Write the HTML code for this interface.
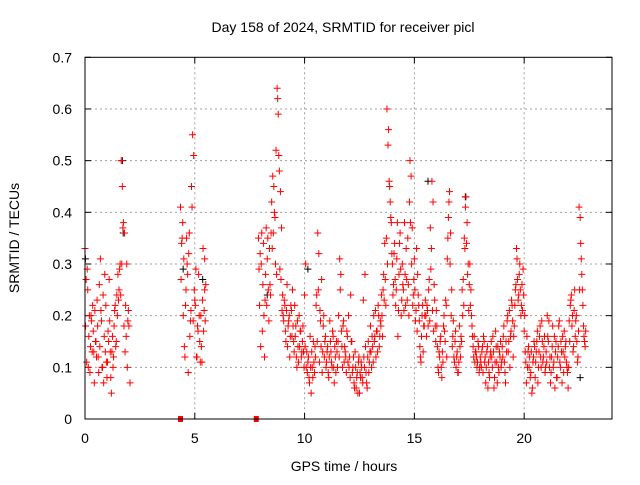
<!DOCTYPE html>
<html><head><meta charset="utf-8"><style>
body{margin:0;background:#fff;}
svg text{font-family:"Liberation Sans",sans-serif;font-size:14px;fill:#000;}
</style></head><body>
<svg id="chart" width="640" height="480" viewBox="0 0 640 480" xmlns="http://www.w3.org/2000/svg">
<text x="343" y="32" text-anchor="middle">Day 158 of 2024, SRMTID for receiver picl</text>
<text transform="translate(19,238) rotate(-90)" text-anchor="middle">SRMTID / TECUs</text>
<text x="344" y="471" text-anchor="middle">GPS time / hours</text>
<g id="grid"></g>
<g id="ticks"></g>
<g id="blk"></g>
<g id="red"></g>
<rect x="85" y="57.3" width="527" height="361.7" fill="none" stroke="#000" stroke-width="1"/>
</svg>
<script>
const xTicks=[0,5,10,15,20];
const yTicks=[0,0.1,0.2,0.3,0.4,0.5,0.6,0.7];
const yTickLabels=["0","0.1","0.2","0.3","0.4","0.5","0.6","0.7"];
const redHours=[
0.0,0.05,0.1,0.15,0.2,0.25,0.3,0.35,0.4,0.45,
0.5,0.55,0.6,0.65,0.7,0.75,0.8,0.85,0.9,0.95,
0.025,0.075,0.125,0.175,0.225,0.275,0.325,0.375,0.425,0.475,
0.525,0.575,0.625,0.675,0.725,0.775,0.825,0.875,0.925,0.975,
1.0,1.05,1.1,1.15,1.2,1.25,1.3,1.35,1.4,1.45,
1.025,1.075,1.125,1.175,1.225,1.275,1.325,1.375,1.425,1.475,
1.5,1.55,1.6,1.65,1.7,1.75,1.8,1.85,1.9,1.95,
1.525,1.575,1.625,1.675,1.725,1.775,1.825,1.875,1.925,1.975,
2.0,2.05,
4.35,4.4,4.45,4.5,4.55,4.6,4.65,4.7,4.75,4.8,
4.375,4.425,4.475,4.525,4.575,4.625,4.675,4.725,4.775,4.825,
4.85,4.9,4.95,5.0,5.05,5.1,5.15,5.2,5.25,5.3,
4.875,4.925,4.975,5.025,5.075,5.125,5.175,5.225,5.275,5.325,
5.35,5.4,5.45,5.5,
5.375,5.425,5.475,5.45,
7.9,7.925,7.95,7.975,
8.0,8.05,8.1,8.15,8.2,8.25,8.3,8.35,8.4,8.45,
8.025,8.075,8.125,8.175,8.225,8.275,8.325,8.375,8.425,8.475,
8.5,8.55,8.6,8.65,8.7,8.75,8.8,8.85,8.9,8.95,
8.525,8.575,8.625,8.675,8.725,8.775,8.825,8.875,8.925,8.975,
9.0,9.05,9.1,9.15,9.2,9.25,9.3,9.35,9.4,9.45,
9.025,9.075,9.125,9.175,9.225,9.275,9.325,9.375,9.425,9.475,
9.5,9.55,9.6,9.65,9.7,9.75,9.8,9.85,9.9,9.95,
9.525,9.575,9.625,9.675,9.725,9.775,9.825,9.875,9.925,9.975,
10.0,10.05,10.1,10.15,10.2,10.25,10.3,10.35,10.4,10.45,
10.025,10.075,10.125,10.175,10.225,10.275,10.325,10.375,10.425,10.475,
10.5,10.55,10.6,10.65,10.7,10.75,10.8,10.85,10.9,10.95,
10.525,10.575,10.625,10.675,10.725,10.775,10.825,10.875,10.925,10.975,
11.0,11.05,11.1,11.15,11.2,11.25,11.3,11.35,11.4,11.45,
11.025,11.075,11.125,11.175,11.225,11.275,11.325,11.375,11.425,11.475,
11.5,11.55,11.6,11.65,11.7,11.75,11.8,11.85,11.9,11.95,
11.525,11.575,11.625,11.675,11.725,11.775,11.825,11.875,11.925,11.975,
12.0,12.05,12.1,12.15,12.2,12.25,12.3,12.35,12.4,12.45,
12.025,12.075,12.125,12.175,12.225,12.275,12.325,12.375,12.425,12.475,
12.5,12.55,12.6,12.65,12.7,12.75,12.8,12.85,12.9,12.95,
12.525,12.575,12.625,12.675,12.725,12.775,12.825,12.875,12.925,12.975,
13.0,13.05,13.1,13.15,13.2,13.25,13.3,13.35,13.4,13.45,
13.025,13.075,13.125,13.175,13.225,13.275,13.325,13.375,13.425,13.475,
13.5,13.55,13.6,13.65,13.7,13.75,13.8,13.85,13.9,13.95,
13.525,13.575,13.625,13.675,13.725,13.775,13.825,13.875,13.925,13.975,
14.0,14.05,14.1,14.15,14.2,14.25,14.3,14.35,14.4,14.45,
14.025,14.075,14.125,14.175,14.225,14.275,14.325,14.375,14.425,14.475,
14.5,14.55,14.6,14.65,14.7,14.75,14.8,14.85,14.9,14.95,
14.525,14.575,14.625,14.675,14.725,14.775,14.825,14.875,14.925,14.975,
15.0,15.05,15.1,15.15,15.2,15.25,15.3,15.35,15.4,15.45,
15.025,15.075,15.125,15.175,15.225,15.275,15.325,15.375,15.425,15.475,
15.5,15.55,15.6,15.65,15.7,15.75,15.8,15.85,15.9,15.95,
15.525,15.575,15.625,15.675,15.725,15.775,15.825,15.875,15.925,15.975,
16.0,16.05,16.1,16.15,16.2,16.25,16.3,16.35,16.4,16.45,
16.025,16.075,16.125,16.175,16.225,16.275,16.325,16.375,16.425,16.475,
16.5,16.55,16.6,16.65,16.7,16.75,16.8,16.85,16.9,16.95,
16.525,16.575,16.625,16.675,16.725,16.775,16.825,16.875,16.925,16.975,
17.0,17.05,17.1,17.15,17.2,17.25,17.3,17.35,17.4,17.45,
17.025,17.075,17.125,17.175,17.225,17.275,17.325,17.375,17.425,17.475,
17.5,17.55,17.6,17.65,17.7,17.75,17.8,17.85,17.9,17.95,
17.525,17.575,17.625,17.675,17.725,17.775,17.825,17.875,17.925,17.975,
18.0,18.05,18.1,18.15,18.2,18.25,18.3,18.35,18.4,18.45,
18.025,18.075,18.125,18.175,18.225,18.275,18.325,18.375,18.425,18.475,
18.5,18.55,18.6,18.65,18.7,18.75,18.8,18.85,18.9,18.95,
18.525,18.575,18.625,18.675,18.725,18.775,18.825,18.875,18.925,18.975,
19.0,19.05,19.1,19.15,19.2,19.25,19.3,19.35,19.4,19.45,
19.025,19.075,19.125,19.175,19.225,19.275,19.325,19.375,19.425,19.475,
19.5,19.55,19.6,19.65,19.7,19.75,19.8,19.85,19.9,19.95,
19.525,19.575,19.625,19.675,19.725,19.775,19.825,19.875,19.925,19.975,
20.0,20.05,20.1,20.15,20.2,20.25,20.3,20.35,20.4,20.45,
20.025,20.075,20.125,20.175,20.225,20.275,20.325,20.375,20.425,20.475,
20.5,20.55,20.6,20.65,20.7,20.75,20.8,20.85,20.9,20.95,
20.525,20.575,20.625,20.675,20.725,20.775,20.825,20.875,20.925,20.975,
21.0,21.05,21.1,21.15,21.2,21.25,21.3,21.35,21.4,21.45,
21.025,21.075,21.125,21.175,21.225,21.275,21.325,21.375,21.425,21.475,
21.5,21.55,21.6,21.65,21.7,21.75,21.8,21.85,21.9,21.95,
21.525,21.575,21.625,21.675,21.725,21.775,21.825,21.875,21.925,21.975,
22.0,22.05,22.1,22.15,22.2,22.25,22.3,22.35,22.4,22.45,
22.025,22.075,22.125,22.175,22.225,22.275,22.325,22.375,22.425,22.475,
22.5,22.55,22.6,22.65,22.7,22.75,22.8,
22.525,22.575,22.625,22.675,22.725,22.775];
const redValues=[
0.33,0.27,0.29,0.1,0.2,0.14,0.19,0.22,0.13,0.21,
0.15,0.23,0.12,0.26,0.31,0.19,0.1,0.07,0.28,0.22,
0.18,0.11,0.25,0.16,0.09,0.2,0.13,0.17,0.07,0.15,
0.12,0.18,0.09,0.14,0.21,0.1,0.24,0.16,0.13,0.11,
0.08,0.17,0.27,0.13,0.05,0.16,0.12,0.21,0.14,0.24,
0.11,0.15,0.19,0.08,0.13,0.1,0.18,0.22,0.15,0.2,
0.28,0.25,0.3,0.5,0.45,0.38,0.36,0.22,0.3,0.19,
0.23,0.29,0.24,0.3,0.37,0.18,0.13,0.16,0.1,0.21,
0.18,0.07,
0.41,0.34,0.38,0.31,0.12,0.25,0.3,0.09,0.36,0.19,
0.27,0.35,0.2,0.14,0.22,0.35,0.28,0.32,0.16,0.21,
0.45,0.55,0.51,0.23,0.29,0.12,0.17,0.2,0.11,0.14,
0.41,0.19,0.25,0.22,0.12,0.18,0.28,0.15,0.2,0.11,
0.23,0.17,0.31,0.26,
0.33,0.21,0.19,0.25,
0.35,0.29,0.22,0.32,
0.14,0.36,0.26,0.2,0.23,0.37,0.31,0.25,0.33,0.24,
0.3,0.17,0.34,0.12,0.28,0.22,0.35,0.19,0.26,0.36,
0.42,0.47,0.45,0.39,0.52,0.64,0.59,0.48,0.44,0.37,
0.33,0.36,0.4,0.3,0.28,0.62,0.51,0.29,0.27,0.21,
0.24,0.19,0.22,0.15,0.26,0.18,0.2,0.16,0.21,0.25,
0.2,0.23,0.17,0.21,0.14,0.19,0.12,0.22,0.16,0.18,
0.15,0.22,0.18,0.1,0.14,0.2,0.17,0.12,0.15,0.13,
0.13,0.16,0.12,0.19,0.11,0.14,0.17,0.13,0.18,0.1,
0.24,0.3,0.13,0.11,0.08,0.16,0.05,0.1,0.15,0.09,
0.14,0.1,0.09,0.12,0.07,0.1,0.13,0.08,0.11,0.14,
0.12,0.24,0.36,0.32,0.21,0.14,0.09,0.18,0.12,0.16,
0.22,0.15,0.25,0.11,0.19,0.27,0.13,0.2,0.15,0.1,
0.11,0.14,0.08,0.19,0.13,0.1,0.16,0.07,0.12,0.15,
0.13,0.09,0.12,0.15,0.11,0.17,0.1,0.14,0.09,0.13,
0.1,0.2,0.31,0.28,0.14,0.18,0.11,0.13,0.09,0.16,
0.15,0.12,0.25,0.17,0.1,0.19,0.14,0.12,0.17,0.11,
0.2,0.12,0.24,0.15,0.1,0.07,0.13,0.06,0.09,0.11,
0.1,0.08,0.15,0.09,0.12,0.06,0.1,0.08,0.05,0.12,
0.05,0.08,0.1,0.07,0.12,0.28,0.09,0.06,0.15,0.11,
0.09,0.11,0.08,0.23,0.1,0.14,0.07,0.12,0.09,0.13,
0.18,0.1,0.14,0.2,0.16,0.12,0.17,0.22,0.14,0.19,
0.13,0.16,0.11,0.15,0.21,0.17,0.13,0.2,0.16,0.18,
0.24,0.16,0.28,0.34,0.22,0.6,0.53,0.46,0.42,0.38,
0.2,0.25,0.23,0.27,0.35,0.3,0.56,0.45,0.39,0.32,
0.3,0.26,0.34,0.22,0.31,0.16,0.28,0.36,0.2,0.3,
0.24,0.32,0.27,0.25,0.38,0.21,0.34,0.29,0.23,0.26,
0.25,0.38,0.22,0.27,0.35,0.2,0.5,0.47,0.37,0.24,
0.21,0.28,0.33,0.23,0.26,0.42,0.38,0.3,0.22,0.27,
0.31,0.19,0.33,0.28,0.22,0.14,0.11,0.2,0.13,0.18,
0.25,0.21,0.17,0.24,0.19,0.12,0.16,0.22,0.18,0.2,
0.23,0.16,0.21,0.25,0.19,0.29,0.46,0.42,0.26,0.18,
0.2,0.22,0.18,0.27,0.37,0.33,0.21,0.17,0.23,0.15,
0.21,0.14,0.09,0.12,0.16,0.08,0.11,0.2,0.15,0.22,
0.18,0.1,0.13,0.15,0.1,0.13,0.18,0.17,0.23,0.12,
0.31,0.39,0.44,0.36,0.25,0.16,0.12,0.15,0.1,0.13,
0.35,0.42,0.3,0.2,0.14,0.19,0.11,0.17,0.12,0.09,
0.09,0.18,0.12,0.15,0.2,0.22,0.33,0.43,0.38,0.3,
0.11,0.14,0.16,0.25,0.27,0.35,0.41,0.34,0.28,0.21,
0.26,0.22,0.2,0.16,0.12,0.11,0.13,0.1,0.15,0.09,
0.3,0.25,0.18,0.14,0.16,0.13,0.12,0.11,0.14,0.1,
0.12,0.1,0.14,0.16,0.11,0.07,0.13,0.06,0.09,0.12,
0.11,0.13,0.09,0.15,0.12,0.1,0.14,0.11,0.08,0.13,
0.15,0.1,0.13,0.08,0.17,0.11,0.14,0.09,0.12,0.1,
0.12,0.16,0.06,0.11,0.14,0.07,0.1,0.13,0.15,0.11,
0.14,0.16,0.11,0.07,0.13,0.2,0.15,0.1,0.17,0.22,
0.12,0.18,0.09,0.15,0.19,0.13,0.21,0.16,0.23,0.19,
0.12,0.18,0.25,0.33,0.27,0.24,0.3,0.2,0.26,0.29,
0.16,0.22,0.26,0.31,0.23,0.28,0.25,0.22,0.21,0.24,
0.17,0.13,0.07,0.1,0.14,0.12,0.09,0.05,0.11,0.15,
0.2,0.11,0.16,0.13,0.1,0.08,0.13,0.06,0.12,0.14,
0.08,0.13,0.17,0.1,0.16,0.12,0.19,0.11,0.14,0.09,
0.11,0.15,0.07,0.13,0.18,0.1,0.15,0.12,0.16,0.1,
0.13,0.2,0.15,0.1,0.07,0.12,0.18,0.11,0.06,0.15,
0.11,0.16,0.19,0.12,0.09,0.14,0.1,0.16,0.13,0.08,
0.08,0.14,0.19,0.1,0.13,0.16,0.09,0.12,0.15,0.1,
0.12,0.18,0.11,0.15,0.07,0.13,0.17,0.14,0.11,0.09,
0.06,0.19,0.22,0.24,0.2,0.14,0.25,0.19,0.15,0.12,
0.1,0.15,0.23,0.18,0.13,0.21,0.16,0.2,0.11,0.17,
0.41,0.39,0.31,0.25,0.18,0.15,0.17,
0.25,0.34,0.28,0.22,0.16,0.14];
const blackHours=[0.02,1.7,1.74,4.47,5.36,8.3,10.15,15.62,17.32,22.55];
const blackValues=[0.31,0.5,0.36,0.29,0.27,0.24,0.29,0.46,0.43,0.08];
const zeroMarks=[4.35,7.8];

const X0=85,X1=612,Y0=419,Y1=57.3,XMAX=24,YMAX=0.7;
const sx=h=>X0+h/XMAX*(X1-X0);
const sy=v=>Y0-v/YMAX*(Y0-Y1);
const NS='http://www.w3.org/2000/svg';
function mk(tag,parent,attrs){const e=document.createElementNS(NS,tag);for(const k in attrs)e.setAttribute(k,attrs[k]);parent.appendChild(e);return e;}
const grid=document.getElementById('grid'),ticks=document.getElementById('ticks');
xTicks.forEach(t=>{
  const x=sx(t);
  if(t>0){const g=mk('line',grid,{x1:x,x2:x,y1:Y1,y2:Y0,stroke:'#a0a0a0','stroke-dasharray':'2,3'});
  
  }
  const a=mk('line',ticks,{x1:x,x2:x,y1:Y0,y2:Y0-6,stroke:'#000'});
  
  
  const b=mk('line',ticks,{x1:x,x2:x,y1:Y1,y2:Y1+6,stroke:'#000'});
  
  
  const l=mk('text',ticks,{x:x,y:443,'text-anchor':'middle'});l.textContent=t;
  
  
});
yTicks.forEach((t,i)=>{
  const y=sy(t);
  if(t>0&&t<0.7){const g=mk('line',grid,{x1:X0,x2:X1,y1:y,y2:y,stroke:'#a0a0a0','stroke-dasharray':'2,3'});
  
  }
  const a=mk('line',ticks,{x1:X0,x2:X0+6,y1:y,y2:y,stroke:'#000'});
  
  
  const b=mk('line',ticks,{x1:X1,x2:X1-6,y1:y,y2:y,stroke:'#000'});
  
  
  const l=mk('text',ticks,{x:72,y:y+5,'text-anchor':'end'});l.textContent=yTickLabels[i];
  
  
});
function plus(g,h,v,c){
  const x=sx(h),y=sy(v);
  const p=mk('path',g,{d:`M${x-3.5},${y}h7M${x},${y-3.5}v7`,stroke:c,'stroke-width':1,fill:'none'});
  
  
}
const blk=document.getElementById('blk'),red=document.getElementById('red');
blackHours.forEach((h,i)=>plus(blk,h,blackValues[i],'#000'));
const n=Math.min(redHours.length,redValues.length);
for(let i=0;i<n;i++)plus(red,redHours[i],redValues[i],'#f00');
zeroMarks.forEach(h=>{
  const r=mk('rect',red,{x:sx(h)-2.5,y:Y0-3,width:5,height:6,fill:'#f00'});
  
  
});
</script>
</body></html>
